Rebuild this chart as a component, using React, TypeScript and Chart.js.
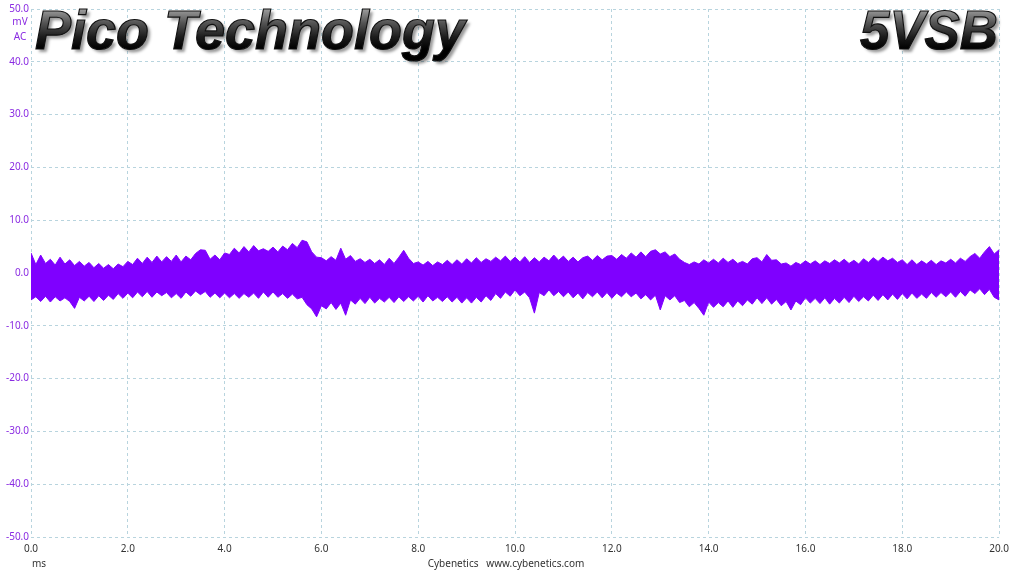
import React, { useEffect, useRef } from "react";
import { Chart, registerables } from "chart.js";

Chart.register(...registerables);

// Sample step of the envelope (ms)
const SAMPLE_STEP_MS = 0.1;

// Upper envelope of the ripple trace (mV), 0.0 .. 20.0 ms
const upperMv: number[] = [
  3.8, 1.6, 3.4, 1.8, 2.6, 1.5, 3.0, 1.7, 2.5, 1.4,
  2.2, 1.3, 2.0, 1.0, 1.8, 0.9, 1.6, 0.8, 1.7, 1.2,
  2.2, 1.6, 2.8, 1.8, 3.0, 2.0, 3.2, 2.1, 3.1, 2.2,
  3.4, 2.1, 3.2, 2.5, 3.7, 4.4, 4.3, 2.6, 3.4, 2.5,
  3.8, 3.5, 4.7, 3.8, 5.0, 4.0, 5.2, 4.2, 4.6, 4.1,
  4.9, 4.0, 5.1, 4.4, 5.6, 4.8, 6.2, 5.9, 4.0, 3.0,
  2.9, 2.3, 3.1, 2.4, 4.7, 2.6, 3.3, 2.2, 2.7, 2.0,
  2.6, 1.8, 2.5, 1.6, 2.8, 1.8, 3.0, 4.3, 2.8, 1.8,
  2.1, 1.5, 2.2, 1.4, 2.1, 1.6, 2.4, 1.6, 2.5, 1.7,
  2.7, 1.9, 2.9, 2.0, 2.7, 2.2, 3.0, 2.3, 3.2, 2.2,
  3.0, 2.1, 3.1, 2.0, 2.9, 2.1, 3.0, 2.3, 3.4, 2.4,
  3.2, 2.2, 3.0, 2.1, 2.9, 3.2, 2.4, 3.3, 2.5, 3.2,
  3.3, 2.6, 3.5, 2.8, 3.8, 3.0, 4.0, 3.1, 4.1, 4.4,
  3.6, 4.0, 3.1, 3.6, 2.6, 2.0, 1.6, 2.1, 1.7, 2.5,
  1.9, 2.6, 1.9, 2.8, 2.0, 2.6, 1.8, 2.2, 1.7, 2.7,
  2.9, 2.1, 3.5, 2.4, 2.5, 1.7, 1.9, 1.3, 2.0, 1.6,
  2.3, 1.7, 2.3, 1.6, 2.3, 1.8, 2.5, 1.9, 2.6, 1.8,
  2.4, 1.7, 2.7, 2.0, 2.9, 2.2, 3.0, 2.3, 2.8, 2.0,
  2.5, 1.6, 2.5, 1.6, 2.3, 1.7, 2.4, 1.6, 2.3, 1.9,
  2.6, 1.9, 2.8, 2.2, 3.1, 3.7, 2.8, 4.0, 5.0, 3.6,
  4.4,
];

// Lower envelope of the ripple trace (mV), 0.0 .. 20.0 ms
const lowerMv: number[] = [
  -5.1, -4.5, -5.4, -4.4, -5.5, -4.5, -5.3, -4.7, -5.4, -6.7,
  -4.6, -5.3, -4.4, -5.4, -4.3, -5.2, -4.2, -5.0, -3.9, -4.8,
  -3.8, -4.7, -3.6, -4.5, -3.5, -4.6, -3.6, -4.3, -3.7, -4.7,
  -3.9, -4.8, -3.6, -4.4, -3.4, -4.1, -3.5, -4.6, -3.8, -4.7,
  -3.8, -4.7, -3.9, -4.8, -3.9, -4.6, -3.8, -4.8, -3.6, -4.6,
  -3.6, -4.6, -3.9, -4.8, -4.0, -4.9, -4.6, -6.0, -6.8, -8.3,
  -6.2, -6.8, -5.6, -6.9, -5.7, -8.0, -5.1, -5.9, -4.8, -5.8,
  -4.6, -5.7, -4.8, -5.5, -4.6, -5.6, -4.5, -5.4, -4.5, -5.3,
  -4.4, -5.5, -4.3, -5.3, -4.6, -5.4, -4.5, -5.5, -4.6, -5.7,
  -4.7, -5.7, -4.6, -5.5, -4.3, -5.2, -3.9, -4.8, -3.6, -4.4,
  -3.2, -4.3, -3.6, -4.7, -7.6, -3.7, -4.3, -3.2, -4.3, -3.5,
  -4.5, -3.6, -4.7, -3.8, -4.9, -3.7, -4.5, -3.6, -4.7, -3.7,
  -4.8, -3.8, -4.5, -3.6, -4.5, -3.8, -4.9, -4.1, -5.1, -4.2,
  -7.0, -4.3, -5.1, -4.3, -5.6, -5.2, -6.4, -5.6, -6.7, -8.0,
  -5.5, -6.5, -5.6, -6.4, -5.3, -6.5, -5.3, -6.2, -5.1, -5.9,
  -4.7, -5.8, -4.7, -5.9, -5.0, -6.2, -5.4, -7.0, -5.3, -6.0,
  -4.7, -5.7, -4.8, -5.8, -4.7, -5.9, -4.8, -5.7, -4.6, -5.6,
  -4.4, -5.4, -4.5, -5.3, -4.2, -5.2, -4.1, -5.1, -4.0, -5.0,
  -3.9, -4.9, -3.8, -4.8, -4.0, -4.8, -3.7, -4.6, -3.7, -4.5,
  -3.6, -4.6, -3.5, -4.4, -3.2, -3.9, -3.0, -4.1, -3.1, -4.6,
  -5.1,
];

const X_MIN = 0;
const X_MAX = 20;
const X_STEP = 2;
const Y_MIN = -50;
const Y_MAX = 50;
const Y_STEP = 10;

const TITLE_LEFT = "Pico Technology";
const TITLE_RIGHT = "5VSB";
const Y_UNIT_LINES = ["mV", "AC"];
const X_UNIT = "ms";
const FOOTER = "Cybenetics   www.cybenetics.com";

const TRACE_COLOR = "#7f00ff";
const TICK_Y_COLOR = "#8a2be2";
const GRID_COLOR = "#b8d4de";

function drawMetalText(
  ctx: CanvasRenderingContext2D,
  text: string,
  x: number,
  baseline: number,
  size: number,
  align: CanvasTextAlign,
  targetWidth: number
) {
  ctx.save();
  ctx.font = `italic bold ${size}px "Liberation Sans", Arial, sans-serif`;
  ctx.textAlign = align;
  ctx.textBaseline = "alphabetic";
  const w = ctx.measureText(text).width;
  const scaleX = targetWidth / w;
  ctx.translate(x, 0);
  ctx.scale(scaleX, 1);
  ctx.shadowColor = "rgba(0,0,0,0.4)";
  ctx.shadowOffsetX = 3;
  ctx.shadowOffsetY = 3;
  ctx.shadowBlur = 3;
  const top = baseline - size * 0.72;
  const g = ctx.createLinearGradient(0, top, 0, baseline);
  g.addColorStop(0, "#a0a0a0");
  g.addColorStop(0.35, "#555555");
  g.addColorStop(0.7, "#1c1c1c");
  g.addColorStop(1, "#000000");
  ctx.fillStyle = g;
  ctx.fillText(text, 0, baseline);
  ctx.shadowColor = "transparent";
  ctx.lineWidth = 1.2;
  ctx.strokeStyle = "#111";
  ctx.strokeText(text, 0, baseline);
  ctx.restore();
}

const overlayPlugin = {
  id: "overlayTexts",
  afterDraw(chart: any) {
    const ctx: CanvasRenderingContext2D = chart.ctx;
    drawMetalText(ctx, TITLE_LEFT, 35, 49, 56, "left", 430);
    drawMetalText(ctx, TITLE_RIGHT, 998, 49, 56, "right", 138);

    ctx.save();
    ctx.font = '10px "Noto Sans", "Open Sans", sans-serif';
    ctx.textBaseline = "middle";
    ctx.textAlign = "center";
    ctx.fillStyle = TICK_Y_COLOR;
    Y_UNIT_LINES.forEach((t, i) => ctx.fillText(t, 20, 22 + i * 15));

    ctx.fillStyle = "#333";
    ctx.textAlign = "left";
    ctx.fillText(X_UNIT, 32, 564);
    ctx.textAlign = "center";
    ctx.fillText(FOOTER, 506, 564);
    ctx.restore();
  },
};

export default function App() {
  const ref = useRef<HTMLCanvasElement | null>(null);

  useEffect(() => {
    if (!ref.current) return;
    const upperPts = upperMv.map((v, i) => ({ x: i * SAMPLE_STEP_MS, y: v }));
    const lowerPts = lowerMv.map((v, i) => ({ x: i * SAMPLE_STEP_MS, y: v }));

    const tickFont = { family: '"Noto Sans", "Open Sans", sans-serif', size: 10 };

    const chart = new Chart(ref.current, {
      type: "line",
      data: {
        datasets: [
          {
            label: "upper",
            data: upperPts,
            borderColor: TRACE_COLOR,
            backgroundColor: TRACE_COLOR,
            borderWidth: 1,
            pointRadius: 0,
            tension: 0,
            fill: "+1",
          },
          {
            label: "lower",
            data: lowerPts,
            borderColor: TRACE_COLOR,
            backgroundColor: TRACE_COLOR,
            borderWidth: 1,
            pointRadius: 0,
            tension: 0,
            fill: false,
          },
        ],
      },
      options: {
        responsive: false,
        animation: false,
        layout: { padding: { top: 9, right: 15, left: 0, bottom: 0 } },
        plugins: {
          legend: { display: false },
          tooltip: { enabled: false },
        },
        scales: {
          x: {
            type: "linear",
            min: X_MIN,
            max: X_MAX,
            border: { display: false, dash: [3, 3] },
            grid: { color: GRID_COLOR, lineWidth: 1, drawTicks: false },
            ticks: {
              stepSize: X_STEP,
              padding: 6,
              color: "#333",
              font: tickFont,
              maxRotation: 0,
              callback: (v: any) => Number(v).toFixed(1),
            },
            afterFit: (s: any) => {
              s.height = 34;
            },
          },
          y: {
            type: "linear",
            min: Y_MIN,
            max: Y_MAX,
            border: { display: false, dash: [3, 3] },
            grid: { color: GRID_COLOR, lineWidth: 1, drawTicks: false },
            ticks: {
              stepSize: Y_STEP,
              padding: 2,
              color: TICK_Y_COLOR,
              font: tickFont,
              callback: (v: any) => Number(v).toFixed(1),
            },
            afterFit: (s: any) => {
              s.width = 31;
            },
          },
        },
      },
      plugins: [overlayPlugin],
    });
    return () => chart.destroy();
  }, []);

  return (
    <div style={{ position: "absolute", left: 0, top: 0, width: 1015, height: 571, background: "#fff" }}>
      <canvas ref={ref} width={1015} height={571} style={{ display: "block" }} />
    </div>
  );
}
